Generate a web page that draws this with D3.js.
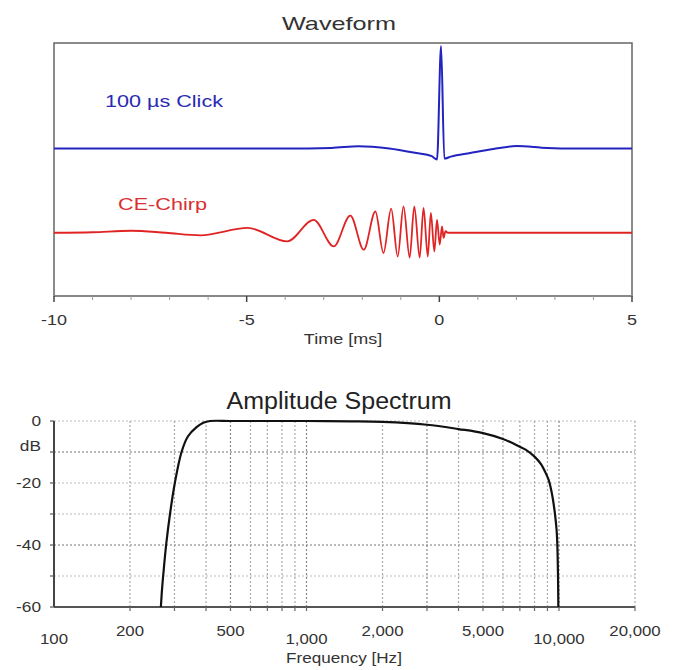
<!DOCTYPE html>
<html>
<head>
<meta charset="utf-8">
<script src="https://cdn.jsdelivr.net/npm/d3@7"></script>
<style>
  html, body { margin: 0; padding: 0; background: #fff; }
  svg { display: block; font-family: "Liberation Sans", Arial, sans-serif; }
</style>
</head>
<body>
<svg id="chart" width="675" height="670"></svg>
<script>
// ---- Waveform data (time in ms, amplitude in relative units) ----
const timeTicks = [-10, -5, 0, 5];

const clickTime = [-10, -4, -2.8, -2.1, -1.3, -0.6, -0.2, -0.06, 0.045, 0.13, 0.3, 0.8, 1.4, 2.0, 2.8, 3.5, 5];
const clickAmp  = [0, 0, 0.02, 0.09, 0, -0.18, -0.30, -0.43, 4.05, -0.40, -0.32, -0.18, -0.02, 0.10, 0.02, 0, 0];

const chirpTime = [-10, -9.0, -8.0, -7.1, -6.2, -4.97, -3.95, -3.26, -2.74, -2.31, -1.96, -1.66, -1.45,
                   -1.25, -1.08, -0.93, -0.77, -0.65, -0.51, -0.41, -0.30, -0.22, -0.13, -0.06, 0.01,
                   0.07, 0.11, 0.16, 0.22, 5];
const chirpAmp  = [0, 0.02, 0.08, 0.0, -0.10, 0.19, -0.34, 0.51, -0.54, 0.68, -0.67, 0.84, -0.80,
                   0.95, -0.94, 1.04, -0.98, 1.04, -0.98, 0.98, -0.94, 0.78, -0.74, 0.51, -0.47,
                   0.25, -0.20, 0.06, 0, 0];

// ---- Amplitude spectrum data (frequency in Hz, level in dB) ----
const freqHz  = [265, 268, 272, 278, 288, 301, 320, 339, 367, 390, 415, 500, 700, 1000, 1500, 2000,
                 3000, 4000, 5000, 6000, 7000, 7400, 8000, 8500, 8800, 9100, 9300, 9450, 9640, 9780,
                 9850, 9910, 9940];
const levelDb = [-60, -54, -48, -40, -30, -20, -10, -5, -2, -0.6, 0, 0, 0, 0, -0.1, -0.3,
                 -1.2, -2.6, -3.9, -5.8, -8.3, -9.3, -11.5, -14, -16.3, -19, -22, -25, -30, -35,
                 -40, -50, -60];

const freqTickValues = [100, 200, 500, 1000, 2000, 5000, 10000, 20000];
const freqTickLabels = ["100", "200", "500", "1,000", "2,000", "5,000", "10,000", "20,000"];
const freqGridValues = [200, 300, 400, 500, 600, 700, 800, 900, 1000, 2000, 3000, 4000, 5000,
                        6000, 7000, 8000, 9000, 10000, 20000];
const dbTickValues = [0, -20, -40, -60];
const dbGridValues = [0, -10, -20, -30, -40, -50];

const svg = d3.select("#chart");
const textColor = "#333";

// text widened horizontally by a given factor
function wideText(sel, factor) {
  sel.each(function () {
    const w = this.getComputedTextLength();
    d3.select(this).attr("textLength", w * factor).attr("lengthAdjust", "spacingAndGlyphs");
  });
  return sel;
}

// =================== Waveform panel ===================
const W = { left: 54, right: 632, top: 43, bottom: 296 };
const clickBase = 0.83, chirpBase = -2.5;

const xT = d3.scaleLinear().domain([-10, 5]).range([W.left, W.right]);
const yA = d3.scaleLinear().domain([-5, 5]).range([W.bottom, W.top]);

svg.append("text")
  .attr("x", 339).attr("y", 30)
  .attr("text-anchor", "middle").attr("font-size", 19).attr("fill", textColor)
  .attr("textLength", 114).attr("lengthAdjust", "spacingAndGlyphs")
  .text("Waveform");

svg.append("rect")
  .attr("x", W.left).attr("y", W.top)
  .attr("width", W.right - W.left).attr("height", W.bottom - W.top)
  .attr("fill", "none").attr("stroke", "#666").attr("stroke-width", 1.5);

// bottom time axis
const tAxis = svg.append("g").attr("transform", `translate(0,${W.bottom})`);
tAxis.append("line").attr("x1", W.left).attr("x2", W.right)
  .attr("stroke", "#888").attr("stroke-width", 2);
tAxis.selectAll("line.minor").data(d3.range(-10, 6, 1)).join("line")
  .attr("class", "minor")
  .attr("x1", d => xT(d)).attr("x2", d => xT(d))
  .attr("y1", 0).attr("y2", d => timeTicks.includes(d) ? 6 : 4)
  .attr("stroke", d => timeTicks.includes(d) ? "#444" : "#999")
  .attr("stroke-width", d => timeTicks.includes(d) ? 1.5 : 1);
wideText(tAxis.selectAll("text").data(timeTicks).join("text")
  .attr("x", d => xT(d)).attr("y", 29)
  .attr("text-anchor", "middle").attr("font-size", 15).attr("fill", textColor)
  .text(d => d), 1.2);

wideText(svg.append("text")
  .attr("x", 343).attr("y", 344)
  .attr("text-anchor", "middle").attr("font-size", 15).attr("fill", textColor)
  .text("Time [ms]"), 1.2);

const clickLine = d3.line()
  .x((d, i) => xT(clickTime[i]))
  .y(d => yA(clickBase + d))
  .curve(d3.curveMonotoneX);
const chirpLine = d3.line()
  .x((d, i) => xT(chirpTime[i]))
  .y(d => yA(chirpBase + d))
  .curve(d3.curveMonotoneX);

svg.append("path").datum(clickAmp)
  .attr("d", clickLine)
  .attr("fill", "none").attr("stroke", "#2323c0").attr("stroke-width", 2);
svg.append("path").datum(chirpAmp)
  .attr("d", chirpLine)
  .attr("fill", "none").attr("stroke", "#e02424").attr("stroke-width", 1.8);

svg.append("text")
  .attr("x", 105).attr("y", 107)
  .attr("font-size", 17).attr("fill", "#2a2ab4")
  .attr("textLength", 118).attr("lengthAdjust", "spacingAndGlyphs")
  .text("100 µs Click");
svg.append("text")
  .attr("x", 118).attr("y", 210)
  .attr("font-size", 17).attr("fill", "#d83030")
  .attr("textLength", 89).attr("lengthAdjust", "spacingAndGlyphs")
  .text("CE-Chirp");

// =================== Spectrum panel ===================
const S = { left: 54, right: 635, top: 421, bottom: 607 };
const xF = d3.scaleLog().domain([100, 20000]).range([S.left, S.right]);
const yD = d3.scaleLinear().domain([-60, 0]).range([S.bottom, S.top]);

svg.append("text")
  .attr("x", 339).attr("y", 409)
  .attr("text-anchor", "middle").attr("font-size", 23).attr("fill", "#222")
  .attr("textLength", 225).attr("lengthAdjust", "spacingAndGlyphs")
  .text("Amplitude Spectrum");

// grid
svg.append("g").selectAll("line").data(dbGridValues).join("line")
  .attr("x1", S.left).attr("x2", S.right)
  .attr("y1", d => yD(d)).attr("y2", d => yD(d))
  .attr("stroke", d => (d === -10 || d === -40) ? "#777" : "#bbb")
  .attr("stroke-width", 1.2)
  .attr("stroke-dasharray", "2,2");
svg.append("g").selectAll("line").data(freqGridValues).join("line")
  .attr("x1", d => xF(d)).attr("x2", d => xF(d))
  .attr("y1", S.top).attr("y2", S.bottom)
  .attr("stroke", d => [500, 1000, 3000, 10000].includes(d) ? "#888" : "#aaa")
  .attr("stroke-width", 1.2)
  .attr("stroke-dasharray", "2,2");

// axes
svg.append("line")
  .attr("x1", S.left).attr("x2", S.right).attr("y1", S.bottom).attr("y2", S.bottom)
  .attr("stroke", "#555").attr("stroke-width", 2.2);
svg.append("line")
  .attr("x1", S.left).attr("x2", S.left).attr("y1", S.top).attr("y2", S.bottom)
  .attr("stroke", "#444").attr("stroke-width", 2);

svg.append("g").selectAll("line").data(freqGridValues).join("line")
  .attr("x1", d => xF(d)).attr("x2", d => xF(d))
  .attr("y1", S.bottom).attr("y2", S.bottom + 4)
  .attr("stroke", "#666").attr("stroke-width", 1.2);
svg.append("g").selectAll("line").data(dbGridValues.concat([-60])).join("line")
  .attr("x1", S.left - 4).attr("x2", S.left)
  .attr("y1", d => yD(d)).attr("y2", d => yD(d))
  .attr("stroke", "#555").attr("stroke-width", 1.2);

wideText(svg.append("g").selectAll("text").data(freqTickValues).join("text")
  .attr("x", d => xF(d)).attr("y", (d, i) => (i % 3 === 0) ? 644 : 636)
  .attr("text-anchor", "middle").attr("font-size", 14).attr("fill", textColor)
  .text((d, i) => freqTickLabels[i]), 1.2);

wideText(svg.append("g").selectAll("text").data(dbTickValues).join("text")
  .attr("x", 41).attr("y", d => yD(d) + 5)
  .attr("text-anchor", "end").attr("font-size", 15).attr("fill", textColor)
  .text(d => d), 1.15);
wideText(svg.append("text")
  .attr("x", 41).attr("y", 451)
  .attr("text-anchor", "end").attr("font-size", 15).attr("fill", textColor)
  .text("dB"), 1.15);

wideText(svg.append("text")
  .attr("x", 344).attr("y", 663)
  .attr("text-anchor", "middle").attr("font-size", 14).attr("fill", textColor)
  .text("Frequency [Hz]"), 1.22);

const specLine = d3.line()
  .x((d, i) => xF(freqHz[i]))
  .y(d => yD(d))
  .curve(d3.curveCatmullRom.alpha(0.5));
svg.append("path").datum(levelDb)
  .attr("d", specLine)
  .attr("fill", "none").attr("stroke", "#111").attr("stroke-width", 2.2);
</script>
</body>
</html>
